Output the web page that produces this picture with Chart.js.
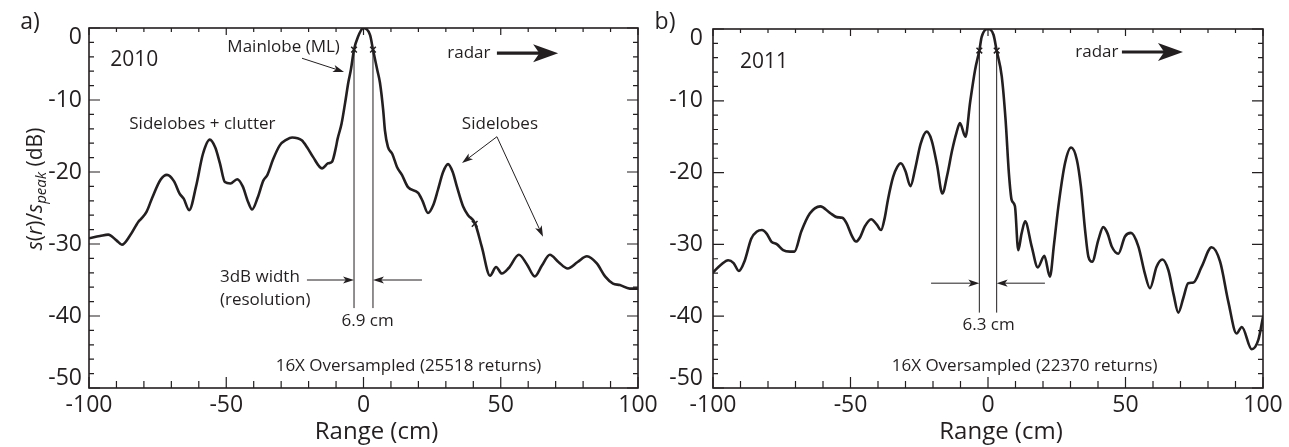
<!DOCTYPE html>
<html>
<head>
<meta charset="utf-8">
<script src="https://cdn.jsdelivr.net/npm/chart.js@4.4.1/dist/chart.umd.min.js"></script>
<style>
  html, body { margin: 0; padding: 0; background: #fff; }
  body { width: 1289px; height: 447px; position: relative; overflow: hidden; }
  canvas { position: absolute; top: 0; }
  #panelA { left: 0; }
  #panelB { left: 645px; }
</style>
</head>
<body>
<canvas id="panelA" width="700" height="447"></canvas>
<canvas id="panelB" width="644" height="447"></canvas>
<script>
// ======================================================
// Data (range in cm, normalised power in dB)
// ======================================================

// a) 2010
const rangeA = [-100, -96, -93, -90, -88, -85, -82, -81, -79, -77, -74, -71.6, -69, -67, -65.5, -63.5,
  -61, -58.5, -56, -54, -52.3, -50.5, -48.5, -46, -44, -42, -40.6, -38.5, -36.5, -35, -33, -30.5,
  -28, -26, -22.5, -20.5, -18.4, -15.1, -12.9, -11.5, -10, -9.5, -8, -6.7, -5.5, -4.6, -3.45, -2,
  0, 2.4, 3.45, 5, 6, 7.2, 7.8, 8.9, 10.5, 12.2, 14, 16.2, 19.9, 21.5, 23.5, 25.5, 27.1, 29, 30.8,
  32.5, 34, 36.3, 38.1, 40.6, 43.1, 46.1, 48.3, 50.4, 53, 56.6, 59.5, 62.4, 65, 67.9, 71, 74.4,
  78, 81.4, 85, 88, 90.9, 93.4, 97, 100];
const dbA = [-29.2, -28.9, -28.7, -29.5, -30.1, -28.8, -26.9, -26.5, -25.5, -23.6, -21.1, -20.4, -21.3, -23.0, -23.7, -25.3,
  -22, -17.5, -15.5, -16.6, -18.8, -21.4, -21.6, -21.0, -22.0, -24.2, -25.2, -23.5, -21.2, -20.4, -18.3, -16.3,
  -15.5, -15.2, -15.6, -16.6, -17.9, -19.5, -18.8, -18.6, -16.5, -15.5, -13.3, -10.4, -7.5, -5.8, -3.0, -1.2,
  0, -1.0, -3.0, -5.8, -7.6, -11.5, -14.2, -16.5, -17.5, -19.3, -20.4, -22.1, -22.9, -24, -25.7, -24.5, -22.5, -20, -18.9,
  -20, -22, -24.8, -26, -27.1, -30.4, -34.4, -33.2, -34.1, -33.3, -31.5, -32.8, -34.5, -33, -31.5, -32.5, -33.4,
  -32.5, -31.7, -32.7, -34.5, -35.5, -35.7, -36.2, -36.2];

// b) 2011
const rangeB = [-100, -97, -94.5, -92.5, -90.6, -88.5, -86.1, -84, -82.2, -80.5, -78.8, -76.7, -74.5, -72, -70.4, -67.9,
  -64.8, -61, -57.5, -55, -53, -51.5, -49.5, -48, -46.5, -44.8, -42.5, -40.5, -38.9, -37.5, -36.4, -34.5,
  -33, -31.7, -30, -28.2, -26.5, -24.5, -22.3, -20.5, -18.5, -16.6, -14.8, -13.1, -11.5, -10.2, -8.2, -6.5,
  -4.7, -3.15, -2.3, 0, 2, 3.15, 5, 6.4, 7.6, 8.6, 9.8, 11, 12.2, 13.5, 15.9, 18.1, 20.5, 22.5, 24, 25.6,
  28, 30.2, 32.3, 33.8, 35.3, 36.5, 37.9, 40.1, 41.9, 43.5, 45, 47.4, 49.8, 52, 54.7, 57, 58.9, 61.3,
  63.4, 65.6, 67.5, 69.2, 71, 72.8, 74.7, 77.7, 81.3, 84.4, 87.4, 90.4, 92.3, 95.9, 98.3, 100];
const dbB = [-33.9, -32.8, -32.2, -32.6, -33.7, -32.3, -29.2, -28.2, -28.0, -28.5, -29.6, -30.0, -30.8, -31.0, -31.0, -28.2,
  -25.7, -24.7, -25.6, -26.2, -26.3, -27, -28.8, -29.6, -29.0, -27.5, -26.5, -27.2, -28.0, -26.2, -23.8, -20.6,
  -19.2, -18.7, -19.8, -21.9, -19.5, -16, -14.3, -15.5, -19, -22.9, -20.3, -17, -14.5, -13.1, -15.0, -10.2,
  -5.7, -3.0, -1.1, 0, -0.8, -3.0, -6.6, -12.7, -20.1, -23.8, -24.7, -30.8, -28.5, -26.8, -30.3, -33.2, -31.6, -34.5, -30, -24.7,
  -18.7, -16.5, -18.2, -22, -28, -31.7, -32.4, -29.4, -27.6, -28.5, -30.3, -31.3, -28.9, -28.4, -30.3, -34, -36.1, -33.1,
  -32.1, -33.6, -37, -39.5, -37.5, -35.4, -35.3, -33.1, -30.4, -32.4, -38, -42.4, -41.5, -44.6, -43.3, -40.1];

// -3 dB crosses (and the small mark on the 2010 curve)
const markRangeA = [-3.45, 3.45, 40.5];
const markDbA = [-3, -3, -27.2];
const markRangeB = [-3.15, 3.15];
const markDbB = [-3, -3];

// axis ticks
const xTicks = [-100, -50, 0, 50, 100];
const yTicks = [0, -10, -20, -30, -40, -50];
const xMinorStep = 10;
const yMinorStep = 2;

const INK = '#231f20';
const FONT = '"Open Sans", "Noto Sans", sans-serif';

// ======================================================
// Drawing helpers
// ======================================================

function arrow(ctx, x1, y1, x2, y2, lw, hl, hw) {
  const a = Math.atan2(y2 - y1, x2 - x1);
  const c = Math.cos(a), s = Math.sin(a);
  const bx = x2 - hl * c, by = y2 - hl * s;
  ctx.lineWidth = lw;
  ctx.beginPath();
  ctx.moveTo(x1, y1);
  ctx.lineTo(x2 - hl * 0.7 * c, y2 - hl * 0.7 * s);
  ctx.stroke();
  ctx.beginPath();
  ctx.moveTo(x2, y2);
  ctx.lineTo(bx - hw * s, by + hw * c);
  ctx.lineTo(x2 - hl * 0.75 * c, y2 - hl * 0.75 * s);
  ctx.lineTo(bx + hw * s, by - hw * c);
  ctx.closePath();
  ctx.fill();
}

function drawYTitle(ctx, cx, cy) {
  const parts = [
    ['s', 'italic 21px ' + FONT, 0],
    ['(', '21px ' + FONT, 0],
    ['r', 'italic 21px ' + FONT, 0],
    [')/', '21px ' + FONT, 0],
    ['s', 'italic 21px ' + FONT, 0],
    ['peak', 'italic 15px ' + FONT, 6],
    [' (dB)', '21px ' + FONT, 0]
  ];
  ctx.save();
  ctx.translate(cx, cy);
  ctx.rotate(-Math.PI / 2);
  let total = 0;
  parts.forEach(p => { ctx.font = p[1]; total += ctx.measureText(p[0]).width; });
  let x = -total / 2;
  ctx.textAlign = 'left';
  ctx.textBaseline = 'middle';
  parts.forEach(p => {
    ctx.font = p[1];
    ctx.fillText(p[0], x, p[2]);
    x += ctx.measureText(p[0]).width;
  });
  ctx.restore();
}

// frame, inward ticks and annotations for one panel
function makeFramePlugin(cfg) {
  return {
    id: 'frame',
    beforeDraw(chart) {
      // the end labels of the dB axis sit inside the box, as in the original
      const ys = chart.scales.y;
      const items = ys.getLabelItems(chart.chartArea);
      items.forEach((it, i) => {
        const v = ys.ticks[i].value;
        const shift = v === ys.max ? 9 : (v === ys.min ? -10 : 0);
        it.options.translation[1] = ys.getPixelForValue(v) + shift;
      });
    },
    afterDatasetsDraw(chart) {
      const ctx = chart.ctx;
      const { left, right, top, bottom } = chart.chartArea;
      const xs = chart.scales.x, ys = chart.scales.y;
      const px = v => xs.getPixelForValue(v);
      const py = v => ys.getPixelForValue(v);

      ctx.save();
      ctx.strokeStyle = INK;
      ctx.fillStyle = INK;

      // box
      ctx.lineWidth = 1.6;
      ctx.strokeRect(left, top, right - left, bottom - top);

      // inward tick marks
      ctx.lineWidth = 1.2;
      ctx.beginPath();
      for (let v = xs.min; v <= xs.max + 1e-6; v += xMinorStep) {
        const x = px(v);
        const major = Math.abs(v % 50) < 1e-6;
        ctx.moveTo(x, bottom); ctx.lineTo(x, bottom - (major ? 11 : 7));
        ctx.moveTo(x, top); ctx.lineTo(x, top + (major ? 7 : 4));
      }
      for (let v = ys.min; v <= ys.max + 1e-6; v += yMinorStep) {
        const y = py(v);
        const major = Math.abs(v % 10) < 1e-6;
        ctx.moveTo(left, y); ctx.lineTo(left + (major ? 11 : 5), y);
        ctx.moveTo(right, y); ctx.lineTo(right - (major ? 11 : 5), y);
      }
      ctx.stroke();

      // vertical 3 dB width lines
      ctx.lineWidth = 1;
      ctx.beginPath();
      cfg.vlines.forEach(l => {
        ctx.moveTo(px(l.x), py(l.y1));
        ctx.lineTo(px(l.x), py(l.y2));
      });
      ctx.stroke();

      // arrows
      cfg.arrows.forEach(a => {
        if (a.thick) arrow(ctx, px(a.x1), py(a.y1), px(a.x2), py(a.y2), 3.2, 25, 9);
        else arrow(ctx, px(a.x1), py(a.y1), px(a.x2), py(a.y2), 1, 11, 3.6);
      });

      // annotation text
      ctx.textBaseline = 'middle';
      cfg.texts.forEach(t => {
        ctx.font = t.size + 'px ' + FONT;
        ctx.textAlign = t.align || 'center';
        ctx.fillText(t.t, px(t.x), py(t.y));
      });

      // axis titles and panel letter
      ctx.font = '24px ' + FONT;
      ctx.textAlign = 'center';
      ctx.fillText('Range (cm)', (left + right) / 2 + 13, 432);
      ctx.font = '23px ' + FONT;
      ctx.fillText(cfg.letter, cfg.letterX, 22);
      if (cfg.yTitle) drawYTitle(ctx, 36, 189);

      ctx.restore();
    }
  };
}

function makePanel(canvasId, xs, ys, mx, my, geo, notes) {
  const curve = xs.map((x, i) => ({ x: x, y: ys[i] }));
  const marks = mx.map((x, i) => ({ x: x, y: my[i] }));
  return new Chart(document.getElementById(canvasId), {
    type: 'line',
    data: {
      datasets: [
        {
          data: curve,
          borderColor: INK,
          borderWidth: 2.6,
          pointRadius: 0,
          cubicInterpolationMode: 'monotone',
          borderJoinStyle: 'round',
          borderCapStyle: 'round',
          fill: false
        },
        {
          data: marks,
          showLine: false,
          pointStyle: 'crossRot',
          pointRadius: 4,
          pointBorderWidth: 1.5,
          pointBorderColor: INK,
          pointBackgroundColor: INK
        }
      ]
    },
    options: {
      responsive: false,
      animation: false,
      events: [],
      layout: { padding: { left: 0, right: geo.padRight, top: geo.top, bottom: 0 } },
      plugins: { legend: { display: false }, tooltip: { enabled: false } },
      scales: {
        x: {
          type: 'linear',
          min: -100,
          max: 100,
          afterBuildTicks: s => { s.ticks = xTicks.map(v => ({ value: v })); },
          afterFit: s => { s.height = 447 - geo.bottom; },
          grid: { display: false, drawTicks: false },
          border: { display: false },
          ticks: { font: { family: FONT, size: 23 }, color: INK, padding: 4, maxRotation: 0, autoSkip: false }
        },
        y: {
          type: 'linear',
          min: -50,
          max: 0,
          afterBuildTicks: s => { s.ticks = yTicks.map(v => ({ value: v })); },
          afterFit: s => { s.width = geo.left; },
          grid: { display: false, drawTicks: false },
          border: { display: false },
          ticks: { font: { family: FONT, size: 23 }, color: INK, padding: geo.yPad }
        }
      }
    },
    plugins: [makeFramePlugin(notes)]
  });
}

// ======================================================
// Panels
// ======================================================

makePanel('panelA', rangeA, dbA, markRangeA, markDbA,
  { left: 89, padRight: 62, top: 28, bottom: 388, yPad: 7 },
  {
    letter: 'a)', letterX: 30, yTitle: true,
    vlines: [{ x: -3.45, y1: -3, y2: -38.9 }, { x: 3.45, y1: -3, y2: -38.9 }],
    arrows: [
      { x1: -22.4, y1: -4.2, x2: -7.1, y2: -6.1 },
      { x1: 48.6, y1: -15.1, x2: 35.9, y2: -18.75 },
      { x1: 48.6, y1: -15.1, x2: 65.4, y2: -29 },
      { x1: -20.6, y1: -35, x2: -3.45, y2: -35 },
      { x1: 21.3, y1: -35, x2: 3.45, y2: -35 },
      { x1: 48.6, y1: -3.5, x2: 70.9, y2: -3.5, thick: true }
    ],
    texts: [
      { t: '2010', x: -92.3, y: -4.4, align: 'left', size: 21 },
      { t: 'Mainlobe (ML)', x: -29.1, y: -2.6, size: 17 },
      { t: 'Sidelobes + clutter', x: -58.7, y: -13.3, size: 17 },
      { t: 'Sidelobes', x: 49.7, y: -13.3, size: 17 },
      { t: 'radar', x: 38.4, y: -3.5, size: 17 },
      { t: '3dB width', x: -52.3, y: -34.6, align: 'left', size: 17 },
      { t: '(resolution)', x: -52.3, y: -37.8, align: 'left', size: 17 },
      { t: '6.9 cm', x: 1.5, y: -40.7, size: 17 },
      { t: '16X Oversampled (25518 returns)', x: 16.4, y: -46.9, size: 17 }
    ]
  });

makePanel('panelB', rangeB, dbB, markRangeB, markDbB,
  { left: 68, padRight: 26, top: 29, bottom: 388, yPad: 10 },
  {
    letter: 'b)', letterX: 20, yTitle: false,
    vlines: [{ x: -3.15, y1: -3, y2: -39.5 }, { x: 3.15, y1: -3, y2: -39.5 }],
    arrows: [
      { x1: -20.7, y1: -35.4, x2: -3.15, y2: -35.4 },
      { x1: 20.7, y1: -35.4, x2: 3.15, y2: -35.4 },
      { x1: 48.7, y1: -3.2, x2: 70.9, y2: -3.2, thick: true }
    ],
    texts: [
      { t: '2011', x: -90.2, y: -4.6, align: 'left', size: 21 },
      { t: 'radar', x: 39.6, y: -3.2, size: 17 },
      { t: '6.3 cm', x: 0.2, y: -41.2, size: 17 },
      { t: '16X Oversampled (22370 returns)', x: 13.3, y: -46.9, size: 17 }
    ]
  });
</script>
</body>
</html>
